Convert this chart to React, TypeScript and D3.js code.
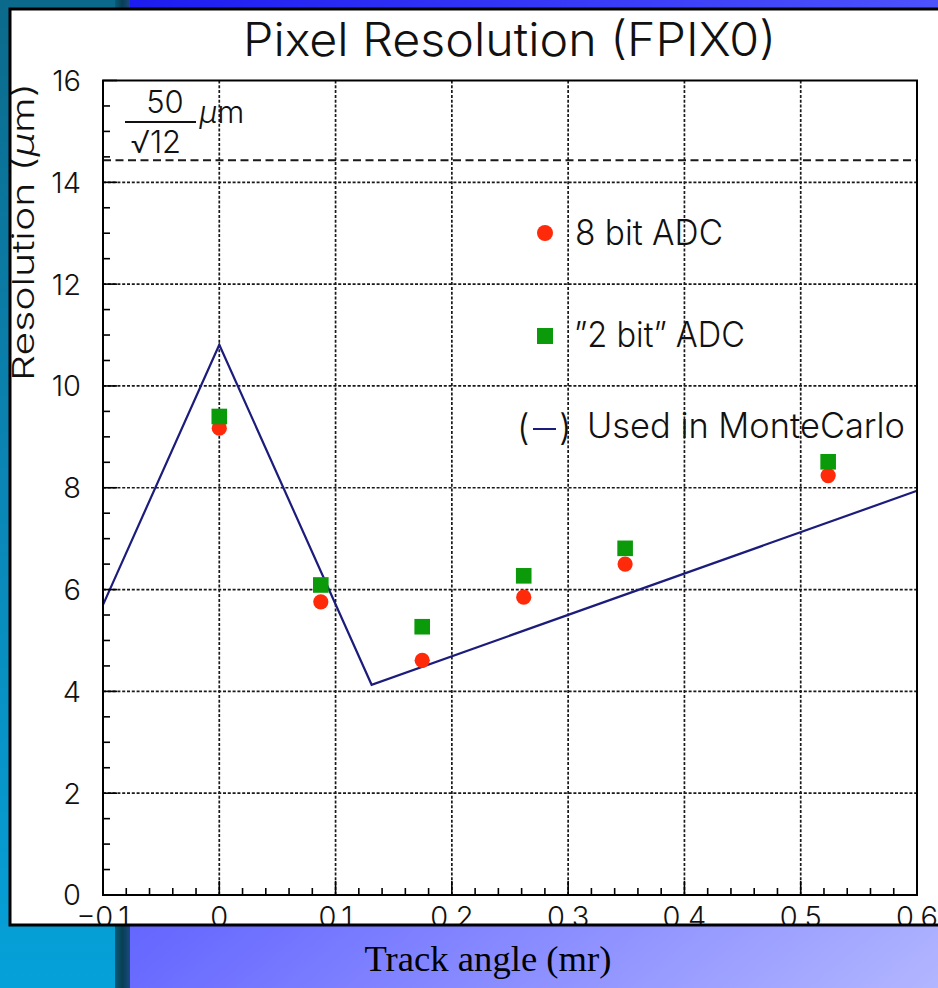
import React from "react";
import * as d3 from "d3";

// Track angle (rad) of each measurement
const angles = [0, 0.0873, 0.1745, 0.2618, 0.349, 0.5236];
// Resolution (µm) measured with 8 bit ADC
const res8bit = [9.17, 5.76, 4.61, 5.85, 6.5, 8.24];
// Resolution (µm) measured with "2 bit" ADC
const res2bit = [9.4, 6.09, 5.27, 6.27, 6.81, 8.51];
// Parametrisation used in the MonteCarlo
const mcAngles = [-0.1, 0, 0.131, 0.6];
const mcRes = [5.7, 10.81, 4.13, 7.94];
// Binary pitch limit 50/sqrt(12)
const pitchLimit = 50 / Math.sqrt(12);

const xTickValues = [-0.1, 0, 0.1, 0.2, 0.3, 0.4, 0.5, 0.6];
const xTickLabels = ["\u22120.1", "0", "0.1", "0.2", "0.3", "0.4", "0.5", "0.6"];
const yTickValues = [0, 2, 4, 6, 8, 10, 12, 14, 16];
const yTickLabels = ["0", "2", "4", "6", "8", "10", "12", "14", "16"];

const W = 938;
const H = 988;
const FONT = "Inter, 'Liberation Sans', Arial, sans-serif";

export default function App() {
  const x = d3.scaleLinear().domain([-0.1, 0.6]).range([103, 917]);
  const y = d3.scaleLinear().domain([0, 16]).range([895, 80.5]);

  const xMinor = d3.range(0, 36).map((i) => -0.1 + i * 0.02);
  const yMinor = d3.range(0, 33).map((i) => i * 0.5);

  const mcLine = d3
    .line<number>()
    .x((_, i) => x(mcAngles[i]))
    .y((d) => y(d))(mcRes) as string;

  const x0 = x(-0.1);
  const x1 = x(0.6);
  const yb = y(0);
  const yt = y(16);

  return (
    <svg
      width={W}
      height={H}
      style={{ position: "absolute", left: 0, top: 0 }}
      xmlns="http://www.w3.org/2000/svg"
    >
      <defs>
        <linearGradient id="teal" x1="0" y1="0" x2="0" y2="1">
          <stop offset="0" stopColor="#0b6a8b" />
          <stop offset="0.5" stopColor="#0a86b6" />
          <stop offset="1" stopColor="#05a1d9" />
        </linearGradient>
        <linearGradient id="band" x1="0" y1="0" x2="1" y2="0">
          <stop offset="0" stopColor="#0a5a78" />
          <stop offset="0.5" stopColor="#083f55" />
          <stop offset="1" stopColor="#1a4a80" />
        </linearGradient>
        <linearGradient
          id="slide"
          gradientUnits="userSpaceOnUse"
          x1={130}
          y1={0}
          x2={938}
          y2={988}
        >
          <stop offset="0" stopColor="#1c1cf0" />
          <stop offset="0.4" stopColor="#4c52fc" />
          <stop offset="0.6" stopColor="#6a6cff" />
          <stop offset="1" stopColor="#b2b6ff" />
        </linearGradient>
        <clipPath id="panelClip">
          <rect x={10} y={9} width={940} height={915} />
        </clipPath>
      </defs>

      {/* slide background */}
      <rect x={0} y={0} width={W} height={H} fill="url(#slide)" />
      <rect x={0} y={0} width={115} height={H} fill="url(#teal)" />
      <rect x={115} y={0} width={15} height={H} fill="url(#band)" />

      {/* white canvas */}
      <rect x={10} y={9} width={940} height={916} fill="#ffffff" />

      <g clipPath="url(#panelClip)">
        {/* title */}
        <text
          x={243}
          y={56}
          fontFamily={FONT}
          fontWeight={300}
          fontSize={46}
          textLength={533}
          lengthAdjust="spacingAndGlyphs"
          fill="#111"
        >
          Pixel Resolution (FPIX0)
        </text>

        {/* grid */}
        {xTickValues.slice(1, -1).map((v) => (
          <line
            key={"gx" + v}
            x1={x(v)}
            x2={x(v)}
            y1={yt}
            y2={yb}
            stroke="#1a1a1a"
            strokeWidth={1.7}
            strokeDasharray="3,1.8"
          />
        ))}
        {yTickValues.slice(1, -1).map((v) => (
          <line
            key={"gy" + v}
            x1={x0}
            x2={x1}
            y1={y(v)}
            y2={y(v)}
            stroke="#1a1a1a"
            strokeWidth={1.7}
            strokeDasharray="3,1.8"
          />
        ))}

        {/* pitch / sqrt(12) */}
        <line
          x1={x0}
          x2={x1}
          y1={y(pitchLimit)}
          y2={y(pitchLimit)}
          stroke="#1a1a1a"
          strokeWidth={2}
          strokeDasharray="8,4.5"
        />

        {/* MonteCarlo parametrisation */}
        <path d={mcLine} fill="none" stroke="#1c1c7c" strokeWidth={2.2} />

        {/* 8 bit ADC */}
        {angles.map((a, i) => (
          <circle key={"r" + i} cx={x(a)} cy={y(res8bit[i])} r={7.6} fill="#ff2a0a" />
        ))}
        {/* "2 bit" ADC */}
        {angles.map((a, i) => (
          <rect
            key={"g" + i}
            x={x(a) - 7.8}
            y={y(res2bit[i]) - 7.8}
            width={15.6}
            height={15.6}
            fill="#0a9a0a"
          />
        ))}

        {/* frame */}
        <rect x={x0} y={yt} width={x1 - x0} height={yb - yt} fill="none" stroke="#000" strokeWidth={2} />

        {/* ticks */}
        {xMinor.map((v, i) => (
          <line
            key={"xt" + i}
            x1={x(v)}
            x2={x(v)}
            y1={yb}
            y2={yb - (i % 5 === 0 ? 14 : 7)}
            stroke="#000"
            strokeWidth={1.6}
          />
        ))}
        {yMinor.map((v, i) => (
          <line
            key={"yt" + i}
            x1={x0}
            x2={x0 + (i % 4 === 0 ? 14 : 7)}
            y1={y(v)}
            y2={y(v)}
            stroke="#000"
            strokeWidth={1.6}
          />
        ))}

        {/* tick labels */}
        {xTickValues.map((v, i) => (
          <text
            key={"xl" + i}
            x={x(v)}
            y={927}
            textAnchor="middle"
            fontFamily={FONT}
            fontWeight={300}
            fontSize={29}
            fill="#111"
          >
            {xTickLabels[i]}
          </text>
        ))}
        {yTickValues.map((v, i) => (
          <text
            key={"yl" + i}
            x={81}
            y={y(v)}
            dy="0.36em"
            textAnchor="end"
            fontFamily={FONT}
            fontWeight={300}
            fontSize={29}
            fill="#111"
          >
            {yTickLabels[i]}
          </text>
        ))}

        {/* y axis title */}
        <text
          transform="translate(34,381) rotate(-90)"
          fontFamily={FONT}
          fontWeight={300}
          fontSize={30}
          textLength={298}
          lengthAdjust="spacingAndGlyphs"
          fill="#111"
        >
          Resolution (<tspan fontStyle="italic">μ</tspan>m)
        </text>

        {/* 50/sqrt(12) µm label */}
        <text x={165} y={113} textAnchor="middle" fontFamily={FONT} fontWeight={300} fontSize={31} fill="#111">
          50
        </text>
        <line x1={125} x2={196} y1={122} y2={122} stroke="#111" strokeWidth={2} />
        <text x={156} y={153} textAnchor="middle" fontFamily={FONT} fontWeight={300} fontSize={31} fill="#111">
          √12
        </text>
        <text x={199} y={123} fontFamily={FONT} fontWeight={300} fontSize={31} fill="#111">
          <tspan fontStyle="italic">μ</tspan>m
        </text>

        {/* legend */}
        <circle cx={545} cy={233} r={8} fill="#ff2a0a" />
        <text
          x={575}
          y={245}
          fontFamily={FONT}
          fontWeight={300}
          fontSize={35}
          textLength={148}
          lengthAdjust="spacingAndGlyphs"
          fill="#111"
        >
          8 bit ADC
        </text>
        <rect x={537} y={328} width={16} height={16} fill="#0a9a0a" />
        <text
          x={574}
          y={347}
          fontFamily={FONT}
          fontWeight={300}
          fontSize={35}
          textLength={171}
          lengthAdjust="spacingAndGlyphs"
          fill="#111"
        >
          ”2 bit” ADC
        </text>
        <text x={517} y={440} fontFamily={FONT} fontWeight={300} fontSize={36} fill="#111">
          (
        </text>
        <line x1={533} x2={556} y1={429} y2={429} stroke="#1c1c7c" strokeWidth={2} />
        <text x={559} y={440} fontFamily={FONT} fontWeight={300} fontSize={36} fill="#111">
          )
        </text>
        <text
          x={587}
          y={438}
          fontFamily={FONT}
          fontWeight={300}
          fontSize={35}
          textLength={318}
          lengthAdjust="spacingAndGlyphs"
          fill="#111"
        >
          Used in MonteCarlo
        </text>
      </g>

      {/* canvas border */}
      <rect x={10} y={9} width={940} height={916} fill="none" stroke="#000" strokeWidth={3} />

      {/* x axis title on the slide */}
      <text
        x={488}
        y={971}
        textAnchor="middle"
        fontFamily="'Liberation Serif', 'Times New Roman', serif"
        fontSize={35}
        textLength={247}
        lengthAdjust="spacingAndGlyphs"
        fill="#000"
      >
        Track angle (mr)
      </text>
    </svg>
  );
}
